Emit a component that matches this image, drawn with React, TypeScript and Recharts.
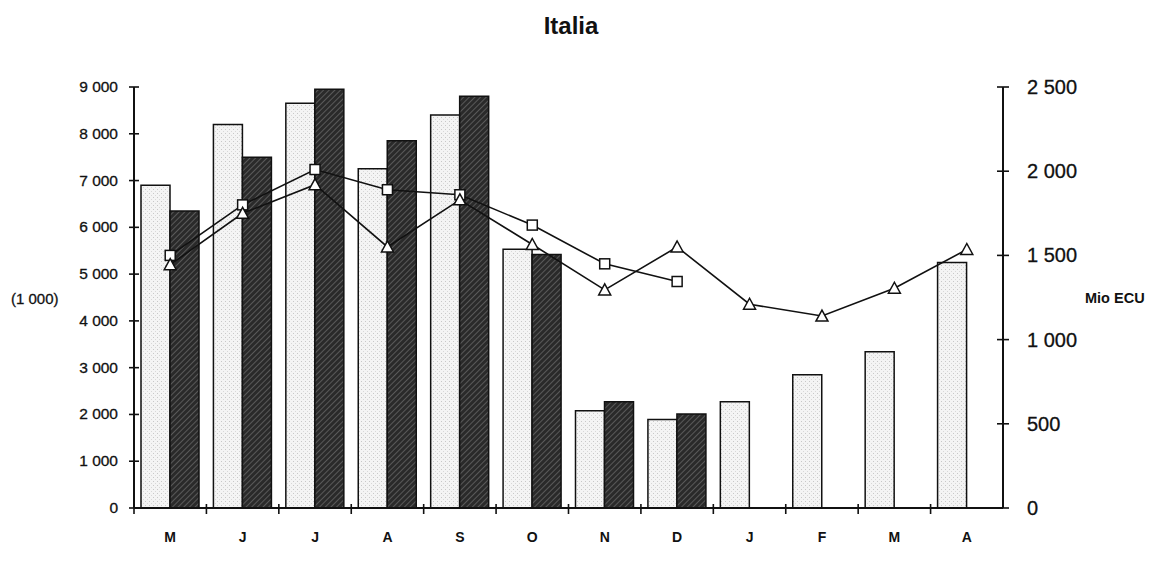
import React from 'react';
import { ComposedChart, Bar, Line, XAxis, YAxis } from 'recharts';

// ============================================================================
// Data
// ============================================================================

const months = ['M', 'J', 'J', 'A', 'S', 'O', 'N', 'D', 'J', 'F', 'M', 'A'];

// left axis, (1 000)
const arrivalsNew = [6900, 8200, 8650, 7250, 8400, 5530, 2080, 1890, 2270, 2850, 3340, 5250];
const arrivalsOld = [6350, 7500, 8950, 7850, 8800, 5420, 2270, 2010, null, null, null, null];

// right axis, Mio ECU
const receiptsOld = [1500, 1800, 2010, 1890, 1860, 1680, 1450, 1345, null, null, null, null];
const receiptsNew = [1445, 1750, 1920, 1550, 1830, 1565, 1295, 1550, 1210, 1140, 1305, 1535];

const leftTicks = [0, 1000, 2000, 3000, 4000, 5000, 6000, 7000, 8000, 9000];
const rightTicks = [0, 500, 1000, 1500, 2000, 2500];

const data = months.map((m, i) => ({
  month: m,
  arrivalsNew: arrivalsNew[i],
  arrivalsOld: arrivalsOld[i],
  receiptsOld: receiptsOld[i],
  receiptsNew: receiptsNew[i],
}));

// ============================================================================
// Layout & styles
// ============================================================================

const WIDTH = 1155;
const HEIGHT = 587;
const LEFT_W = 134;
const RIGHT_W = 152;
const TOP = 87;
const X_H = 79;
const halfBand = (WIDTH - LEFT_W - RIGHT_W) / months.length / 2;

const FONT = '"Liberation Sans", Arial, sans-serif';
const INK = '#111';

const fmt = (v: number) => (v >= 1000 ? `${Math.floor(v / 1000)} ${String(v % 1000).padStart(3, '0')}` : `${v}`);

const LeftTick = (props: any) => {
  const { x, y, payload } = props;
  return (
    <g>
      <line x1={x - 5} x2={x + 5} y1={y} y2={y} stroke={INK} strokeWidth={1.6} />
      <text x={x - 16} y={y + 5} textAnchor="end" fontSize={15.5} fontFamily={FONT} fill={INK} stroke={INK} strokeWidth={0.3}>
        {fmt(payload.value)}
      </text>
    </g>
  );
};

const RightTick = (props: any) => {
  const { x, y, payload } = props;
  return (
    <g>
      <line x1={x - 6} x2={x + 6} y1={y} y2={y} stroke={INK} strokeWidth={1.6} />
      <text x={x + 24} y={y + 7} textAnchor="start" fontSize={20} fontFamily={FONT} fill={INK} stroke={INK} strokeWidth={0.3}>
        {fmt(payload.value)}
      </text>
    </g>
  );
};

const BottomTick = (props: any) => {
  const { x, y, payload } = props;
  return (
    <g>
      <line x1={x - halfBand} x2={x - halfBand} y1={y - 4} y2={y + 6} stroke={INK} strokeWidth={1.6} />
      <text x={x} y={y + 34} textAnchor="middle" fontSize={14} fontWeight="bold" fontFamily={FONT} fill={INK}>
        {payload.value}
      </text>
    </g>
  );
};

const SquareDot = (props: any) => {
  const { cx, cy, value } = props;
  if (value == null || cx == null || cy == null) return null;
  return <rect x={cx - 5} y={cy - 5} width={10} height={10} fill="#fff" stroke={INK} strokeWidth={1.5} />;
};

const TriangleDot = (props: any) => {
  const { cx, cy, value } = props;
  if (value == null || cx == null || cy == null) return null;
  return (
    <polygon
      points={`${cx},${cy - 6} ${cx - 6},${cy + 5} ${cx + 6},${cy + 5}`}
      fill="#fff"
      stroke={INK}
      strokeWidth={1.5}
    />
  );
};

export default function App() {
  return (
    <div style={{ position: 'absolute', left: 0, top: 0, width: WIDTH, height: HEIGHT, background: '#fff' }}>
      <ComposedChart
        width={WIDTH}
        height={HEIGHT}
        data={data}
        margin={{ top: TOP, right: 0, bottom: 0, left: 0 }}
        barCategoryGap={7}
        barGap={0}
      >
        <defs>
          <pattern id="stipple" width="4" height="4" patternUnits="userSpaceOnUse">
            <rect width="4" height="4" fill="#f4f4f4" />
            <rect x="1" y="1" width="1" height="1" fill="#c8c8c8" />
            <rect x="3" y="3" width="1" height="1" fill="#d8d8d8" />
          </pattern>
          <pattern id="hatch" width="4" height="4" patternUnits="userSpaceOnUse" patternTransform="rotate(45)">
            <rect width="4" height="4" fill="#2a2a2a" />
            <line x1="0" y1="0" x2="0" y2="4" stroke="#808080" strokeWidth="1.1" />
          </pattern>
        </defs>

        <XAxis
          dataKey="month"
          height={X_H}
          tickSize={0}
          tickMargin={0}
          tick={<BottomTick />}
          interval={0}
          axisLine={{ stroke: INK, strokeWidth: 2 }}
          tickLine={false}
        />
        <YAxis
          yAxisId="left"
          orientation="left"
          width={LEFT_W}
          domain={[0, 9000]}
          ticks={leftTicks}
          interval={0}
          tickSize={0}
          tickMargin={0}
          tick={<LeftTick />}
          axisLine={{ stroke: INK, strokeWidth: 2 }}
          tickLine={false}
        />
        <YAxis
          yAxisId="right"
          orientation="right"
          width={RIGHT_W}
          domain={[0, 2500]}
          ticks={rightTicks}
          interval={0}
          tickSize={0}
          tickMargin={0}
          tick={<RightTick />}
          axisLine={{ stroke: INK, strokeWidth: 2 }}
          tickLine={false}
        />

        <Bar yAxisId="left" dataKey="arrivalsNew" fill="url(#stipple)" stroke={INK} strokeWidth={1.5} isAnimationActive={false} />
        <Bar yAxisId="left" dataKey="arrivalsOld" fill="url(#hatch)" stroke={INK} strokeWidth={1.5} isAnimationActive={false} />

        <Line
          yAxisId="right"
          dataKey="receiptsOld"
          stroke={INK}
          strokeWidth={1.6}
          dot={<SquareDot />}
          activeDot={false}
          isAnimationActive={false}
        />
        <Line
          yAxisId="right"
          dataKey="receiptsNew"
          stroke={INK}
          strokeWidth={1.6}
          dot={<TriangleDot />}
          activeDot={false}
          isAnimationActive={false}
        />

        <text x={571} y={34} textAnchor="middle" fontSize={24} fontWeight="bold" fontFamily={FONT} fill={INK}>
          Italia
        </text>
        <text x={11} y={304} fontSize={15} fontFamily={FONT} fill={INK} stroke={INK} strokeWidth={0.3}>
          (1 000)
        </text>
        <text x={1085} y={303} fontSize={14.5} fontWeight="bold" fontFamily={FONT} fill={INK}>
          Mio ECU
        </text>
      </ComposedChart>
    </div>
  );
}
